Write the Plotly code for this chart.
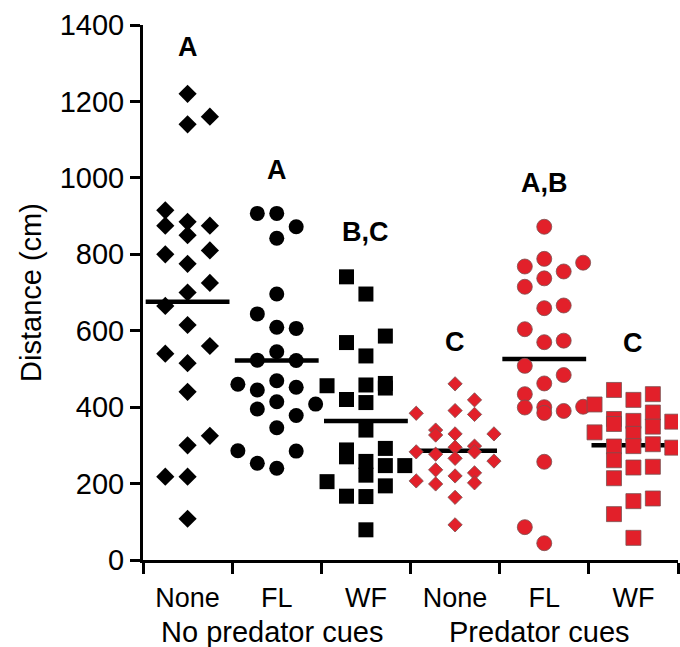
import plotly.graph_objects as go

categories = ["None", "FL", "WF", "None", "FL", "WF"]
group_labels = ["No predator cues", "Predator cues"]

# Distance (cm) per individual
nopred_none = [1220, 1140, 1160, 915, 875, 885, 875, 850, 800, 810, 775, 725, 700,
               665, 615, 540, 560, 515, 440, 325, 300, 218, 218, 108]
nopred_fl = [907, 907, 872, 842, 696, 644, 609, 606, 545, 523, 522, 460, 469, 445,
             452, 414, 408, 395, 378, 346, 286, 285, 253, 240]
nopred_wf = [741, 696, 569, 586, 534, 456, 458, 462, 450, 420, 412, 340, 292, 288,
             270, 258, 222, 247, 247, 205, 194, 167, 166, 79]
pred_none = [461, 419, 391, 381, 384, 340, 327, 330, 330, 295, 298, 283, 277, 283,
             266, 259, 236, 228, 220, 207, 199, 202, 164, 92]
pred_fl = [872, 768, 788, 755, 778, 737, 715, 659, 666, 604, 570, 574, 508, 484,
           462, 434, 399, 400, 385, 390, 401, 257, 86, 44]
pred_wf = [445, 419, 434, 407, 369, 356, 364, 330, 298, 386, 349, 362, 334, 297,
           261, 303, 294, 214, 242, 244, 154, 161, 120, 58]

# swarm lane of each point (column index within its category)
lanes_nopred_none = [0, 0, 1, -1, -1, 0, 1, 0, -1, 1, 0, 1, 0, -1, 0, -1, 1, 0, 0, 1, 0, -1, 0, 0]
lanes_nopred_fl = [-1, 0, 1, 0, 0, -1, 0, 1, 0, -1, 1, -2, 0, -1, 1, 0, 2, -1, 1, 0, -2, 1, -1, 0]
lanes_nopred_wf = [-1, 0, -1, 1, 0, -2, 0, 1, 1, -1, 0, 0, 1, -1, -1, 0, 0, 1, 2, -2, 1, -1, 0, 0]
lanes_pred_none = [0, 1, 0, 1, -2, -1, -1, 0, 2, 0, 1, -2, -1, 1, 0, 2, -1, 1, 0, -2, -1, 1, 0, 0]
lanes_pred_fl = [0, -1, 0, 1, 2, 0, -1, 0, 1, -1, 0, 1, -1, 1, 0, -1, -1, 0, 0, 1, 2, 0, -1, 0]
lanes_pred_wf = [-1, 0, 1, -2, -1, -1, 0, 0, 0, 1, 1, 2, -2, -1, -1, 1, 2, -1, 0, 1, 0, 1, -1, 0]

means = [676, 522, 364, 286, 526, 300]
letters = ["A", "A", "B,C", "C", "A,B", "C"]
letter_y = [1342, 1021, 858, 570, 987, 568]

series = [nopred_none, nopred_fl, nopred_wf, pred_none, pred_fl, pred_wf]
lanes = [lanes_nopred_none, lanes_nopred_fl, lanes_nopred_wf,
         lanes_pred_none, lanes_pred_fl, lanes_pred_wf]

RED = "#E2202A"
styles = [
    dict(symbol="diamond", size=14, color="black", line=dict(width=0)),
    dict(symbol="circle", size=15, color="black", line=dict(width=0)),
    dict(symbol="square", size=15, color="black", line=dict(width=0)),
    dict(symbol="diamond", size=11, color=RED, line=dict(width=0.8, color="#7a5050")),
    dict(symbol="circle", size=15, color=RED, line=dict(width=0.8, color="#7a5050")),
    dict(symbol="square", size=15, color=RED, line=dict(width=0.8, color="#7a5050")),
]
lane_w = [0.25, 0.218, 0.218, 0.218, 0.218, 0.218]

fig = go.Figure()

# mean lines (drawn beneath markers)
for i, m in enumerate(means):
    xc = i + 1
    fig.add_trace(go.Scatter(x=[xc - 0.47, xc + 0.47], y=[m, m], mode="lines",
                             line=dict(color="black", width=4.5),
                             hoverinfo="skip", showlegend=False))

for i, (vals, ln) in enumerate(zip(series, lanes)):
    xc = i + 1
    xs = [xc + l * lane_w[i] for l in ln]
    fig.add_trace(go.Scatter(x=xs, y=vals, mode="markers", marker=styles[i],
                             showlegend=False))

FONT = "Liberation Sans, Arial, Helvetica, sans-serif"

annotations = []
for i, (t, y) in enumerate(zip(letters, letter_y)):
    annotations.append(dict(x=i + 1, y=y, xref="x", yref="y", text="<b>%s</b>" % t,
                            showarrow=False, font=dict(size=27, color="black", family=FONT),
                            xanchor="center", yanchor="middle"))
for gx, g in zip([1.95, 4.95], group_labels):
    annotations.append(dict(x=gx, y=-0.134, xref="x", yref="paper", text=g,
                            showarrow=False, font=dict(size=29, color="black", family=FONT),
                            xanchor="center", yanchor="middle"))

fig.update_layout(
    width=680, height=647,
    margin=dict(l=143, r=2, t=25, b=87),
    plot_bgcolor="white", paper_bgcolor="white",
    font=dict(family=FONT, color="black"),
    annotations=annotations,
    xaxis=dict(
        range=[0.5, 6.5], tickmode="array", tickvals=[1, 2, 3, 4, 5, 6],
        ticktext=categories, ticks="", showgrid=False, zeroline=False,
        showline=True, linewidth=3, linecolor="black", automargin=False,
        tickfont=dict(size=27, family=FONT, color="black"),
        ticklabelstandoff=12,
        minor=dict(tickmode="array", tickvals=[0.5, 1.5, 2.5, 3.5, 4.5, 5.5, 6.5],
                   ticks="outside", ticklen=11, tickwidth=3, tickcolor="black",
                   showgrid=False),
    ),
    yaxis=dict(
        range=[0, 1400], tickmode="array", tickvals=[0, 200, 400, 600, 800, 1000, 1200, 1400],
        ticks="outside", ticklen=10, tickwidth=3, tickcolor="black", automargin=False,
        showgrid=False, zeroline=False, showline=True, linewidth=3, linecolor="black",
        tickfont=dict(size=29, family=FONT, color="black"),
        title=dict(text="Distance (cm)", font=dict(size=29, family=FONT, color="black"),
                   standoff=10),
    ),
)

fig.write_html("out.html", config={"displayModeBar": False},
               post_script="document.body.style.margin='0';")
